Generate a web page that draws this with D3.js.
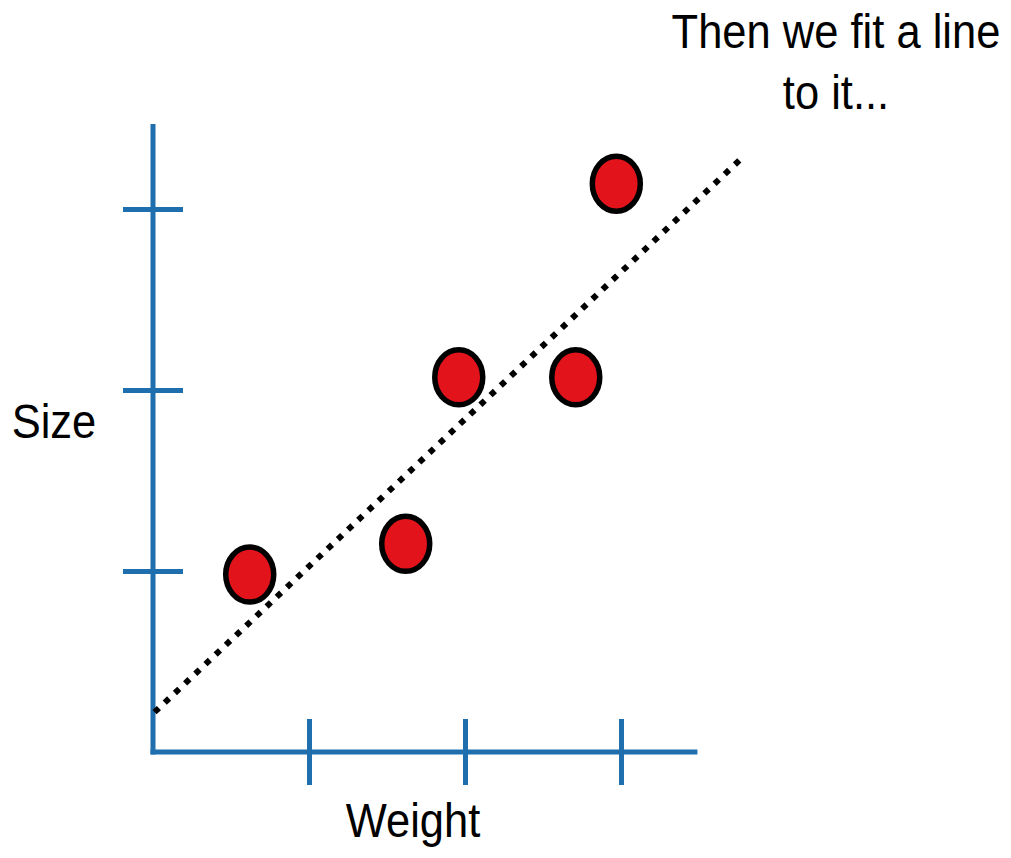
<!DOCTYPE html>
<html><head><meta charset="utf-8">
<script src="https://cdn.jsdelivr.net/npm/d3@7"></script>
<style>html,body{margin:0;padding:0;background:#fff;}svg{display:block;}</style>
</head><body>
<svg id="chart" width="1011" height="858"></svg>
<script>
const weight = [0.62, 1.62, 1.96, 2.71, 2.97];
const size   = [0.98, 1.15, 2.07, 2.07, 3.14];
const fitX = [0.01, 3.76];
const fitY = [0.22, 3.27];
const xTicks = [1, 2, 3];
const yTicks = [1, 2, 3];
const title = ["Then we fit a line", "to it..."];
const xLabel = "Weight";
const yLabel = "Size";

const svg = d3.select("#chart");
const x = d3.scaleLinear().domain([0, 3.49]).range([153, 153 + 3.49 * 156]);
const y = d3.scaleLinear().domain([0, 3.47]).range([752, 752 - 3.47 * 181]);
const axisColor = "#1f6fae";

// X axis
const xAxis = d3.axisBottom(x).tickValues(xTicks).tickSize(0).tickFormat("");
const gx = svg.append("g").attr("transform", "translate(0,752)").call(xAxis);
gx.select(".domain").attr("d", `M${x(0)-2.5},0H${x(3.49)}`).attr("stroke", axisColor).attr("stroke-width", 5);
gx.selectAll(".tick line").attr("y1", -33).attr("y2", 33).attr("stroke", axisColor).attr("stroke-width", 5);

// Y axis
const yAxis = d3.axisLeft(y).tickValues(yTicks).tickSize(0).tickFormat("");
const gy = svg.append("g").attr("transform", "translate(153,0)").call(yAxis);
gy.select(".domain").attr("d", `M0,${y(3.47)}V${y(0)+2.5}`).attr("stroke", axisColor).attr("stroke-width", 5);
gy.selectAll(".tick line").attr("x1", -30).attr("x2", 30).attr("stroke", axisColor).attr("stroke-width", 5);

// Fit line
svg.append("line")
  .attr("x1", x(fitX[0])).attr("y1", y(fitY[0]))
  .attr("x2", x(fitX[1])).attr("y2", y(fitY[1]))
  .attr("stroke", "#000").attr("stroke-width", 6)
  .attr("stroke-dasharray", "6,8");

// Points
svg.selectAll("ellipse.pt").data(weight.map((w, i) => [w, size[i]]))
  .enter().append("ellipse").attr("class", "pt")
  .attr("cx", d => x(d[0])).attr("cy", d => y(d[1]))
  .attr("rx", 24).attr("ry", 27.5)
  .attr("fill", "#e2131a").attr("stroke", "#000").attr("stroke-width", 5.5);

// Texts (vertically stretched like the reference)
function label(txt, cx, baseline, anchor) {
  svg.append("text")
    .attr("transform", `translate(${cx},${baseline}) scale(1,1.1)`)
    .attr("text-anchor", anchor)
    .attr("font-family", "Liberation Sans, Arial, sans-serif")
    .attr("font-size", 43.5).attr("fill", "#000")
    .text(txt);
}
label(title[0], 836, 48, "middle");
label(title[1], 836, 109, "middle");
label(yLabel, 54, 438, "middle");
label(xLabel, 413, 837, "middle");
</script>
</body></html>
